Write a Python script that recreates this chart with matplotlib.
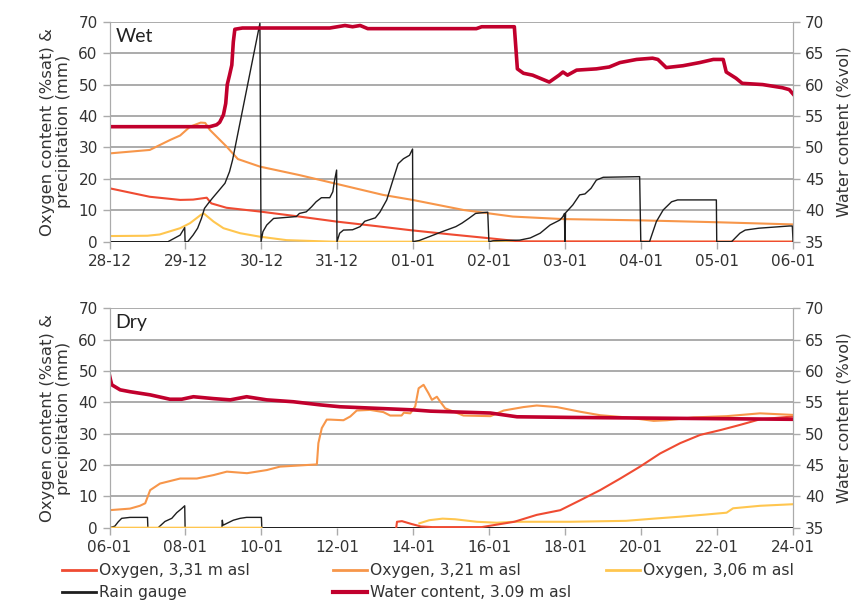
import numpy as np
import pandas as pd
import matplotlib
matplotlib.use("Agg")
import matplotlib.pyplot as plt
from matplotlib.lines import Line2D

# ---------------- data ----------------
wet_start = "2011-12-28"
dry_start = "2012-01-06"

# Wet period (days since 28-12)
wet_wc_days = [0, 1.32, 1.41, 1.45, 1.5, 1.53, 1.55, 1.58, 1.61, 1.63, 1.65, 1.75, 2.5, 2.9, 3.0,
               3.1, 3.2, 3.3, 3.4, 3.9, 4.83, 4.9, 5.33, 5.37, 5.45, 5.57, 5.79, 5.92, 5.97, 6.03,
               6.15, 6.41, 6.58, 6.72, 6.94, 7.15, 7.22, 7.33, 7.55, 7.77, 7.95, 8.08, 8.12, 8.25,
               8.33, 8.6, 8.86, 8.95, 9.0]
wet_wc = [53.3, 53.3, 53.6, 54.0, 55.2, 57.0, 60.0, 61.5, 63.1, 66.8, 68.8, 69.0, 69.0, 69.0, 69.2,
          69.4, 69.2, 69.4, 68.9, 68.9, 68.9, 69.2, 69.2, 62.5, 61.8, 61.5, 60.4, 61.5, 62.0, 61.5,
          62.3, 62.5, 62.8, 63.5, 64.0, 64.2, 64.0, 62.7, 63.0, 63.5, 64.0, 64.0, 62.0, 61.0,
          60.2, 60.0, 59.5, 59.2, 58.5]

wet_o331_days = [0, 0.53, 0.93, 1.1, 1.28, 1.34, 1.54, 1.98, 2.5, 2.99, 3.5, 3.95, 4.5, 5.0, 5.4, 9.0]
wet_o331 = [17.0, 14.3, 13.3, 13.4, 14.0, 12.2, 10.8, 9.6, 8.0, 6.4, 5.0, 3.7, 2.3, 1.1, 0.1, 0.0]

wet_o321_days = [0, 0.53, 0.8, 0.93, 1.06, 1.2, 1.26, 1.32, 1.54, 1.69, 1.98, 2.5, 2.99, 3.6, 3.99,
                 4.66, 5.31, 5.97, 6.98, 7.99, 9.0]
wet_o321 = [28.1, 29.2, 32.4, 33.8, 36.6, 37.9, 37.8, 35.6, 30.3, 26.3, 23.9, 21.2, 18.4, 14.9, 13.3,
            10.1, 8.0, 7.2, 6.8, 6.2, 5.5]

wet_o306_days = [0, 0.5, 0.66, 0.93, 1.06, 1.2, 1.24, 1.37, 1.5, 1.72, 1.98, 2.33, 2.95, 9.0]
wet_o306 = [1.8, 1.9, 2.3, 4.3, 5.9, 8.5, 9.0, 6.4, 4.3, 2.7, 1.6, 0.5, 0.0, 0.0]

wet_rain_days = [0, 0.77, 0.93, 0.99, 0.995, 1.03, 1.1, 1.16, 1.21, 1.25, 1.3, 1.36, 1.43, 1.52, 1.58,
                 1.62, 1.98, 1.995,
                 2.02, 2.07, 2.16, 2.46, 2.5, 2.59, 2.66, 2.72, 2.79, 2.9, 2.94, 2.96, 2.99, 2.995,
                 3.03, 3.08, 3.2, 3.3, 3.36, 3.5, 3.56, 3.65, 3.73, 3.8, 3.87, 3.95, 3.99, 3.995,
                 4.08, 4.21, 4.38, 4.56, 4.64, 4.73, 4.82, 4.98, 4.995,
                 5.05, 5.4, 5.54, 5.67, 5.8, 5.93, 5.97, 5.99, 5.995, 6.005,
                 6.1, 6.19, 6.26, 6.34, 6.41, 6.5, 6.98, 6.995,
                 7.11, 7.2, 7.29, 7.4, 7.48, 7.99, 7.995,
                 8.19, 8.3, 8.37, 8.55, 8.95, 8.99, 9.0]
wet_rain = [0, 0, 2.1, 4.5, 0, 0, 2.1, 4.3, 7.4, 10.6, 12.2, 14.0, 16.0, 18.6, 22.3,
            26.0, 69.5, 0,
            3.2, 5.3, 7.4, 8.0, 9.0, 9.5, 11.1, 12.7, 14.0, 14.0, 15.9, 19.1, 22.8, 0,
            2.7, 3.7, 3.8, 4.8, 6.5, 7.6, 9.4, 13.3, 19.5, 24.8, 26.4, 27.5, 29.5, 0,
            0.4, 1.6, 3.2, 4.8, 5.9, 7.4, 9.0, 9.4, 0,
            0.3, 0.5, 1.2, 2.7, 5.3, 6.9, 8.0, 9.0, 0, 9.2,
            11.7, 14.9, 15.2, 17.0, 19.6, 20.5, 20.7, 0,
            0, 6.4, 10.1, 12.7, 13.3, 13.3, 0,
            0, 2.7, 3.7, 4.3, 5.0, 5.0, 0]

# Dry period (days since 06-01)
dry_wc_days = [0, 0.03, 0.06, 0.28, 0.54, 1.07, 1.59, 1.9, 2.21, 2.74, 3.18, 3.61, 4.14, 4.84, 5.55,
               6.07, 8.0, 8.45, 10.03, 10.73, 12.14, 14.0, 16.0, 18.0]
dry_wc = [59.3, 58.5, 57.8, 57.0, 56.7, 56.2, 55.5, 55.5, 55.9, 55.6, 55.4, 55.9, 55.4, 55.1, 54.6,
          54.3, 53.8, 53.6, 53.3, 52.7, 52.6, 52.5, 52.4, 52.3]

dry_o321_days = [0, 0.54, 0.8, 0.94, 1.07, 1.33, 1.86, 2.3, 2.74, 3.09, 3.62, 4.14, 4.49, 5.46, 5.5,
                 5.59, 5.72, 5.81, 6.16, 6.34, 6.51, 6.86, 7.21, 7.39, 7.69, 7.75, 7.92, 8.05, 8.14,
                 8.27, 8.4, 8.49, 8.62, 8.71, 8.84, 9.32, 10.03, 10.38, 10.9, 11.25, 11.78, 12.4,
                 12.92, 13.62, 14.33, 14.68, 15.38, 16.25, 17.13, 18.0]
dry_o321 = [5.6, 6.1, 7.0, 7.8, 12.0, 14.1, 15.7, 15.7, 16.8, 17.9, 17.4, 18.4, 19.5, 20.2, 27.0,
            31.8, 34.5, 34.5, 34.3, 35.5, 37.4, 37.6, 36.9, 35.8, 35.8, 36.7, 36.5, 38.7, 44.5,
            45.6, 42.9, 40.8, 41.8, 40.2, 38.1, 35.8, 35.6, 37.4, 38.5, 39.0, 38.5, 37.0,
            35.9, 35.2, 34.1, 34.3, 35.2, 35.6, 36.5, 36.0]

dry_o331_days = [7.55, 7.57, 7.7, 7.95, 8.2, 8.5, 9.8, 10.66, 11.25, 11.87, 12.4, 12.92, 13.45, 13.97,
                 14.5, 15.03, 15.55, 16.1, 16.6, 17.13, 18.0]
dry_o331 = [0.0, 1.9, 2.1, 1.2, 0.4, 0.2, 0.2, 1.9, 4.1, 5.6, 8.8, 12.0, 15.7, 19.5,
            23.7, 27.0, 29.6, 31.2, 32.8, 34.6, 35.5]

dry_o306_days = [0, 4.0, 8.0, 8.16, 8.42, 8.77, 9.1, 9.67, 10.2, 10.66, 12.14, 13.6, 14.33, 15.0,
                 15.7, 16.25, 16.42, 17.13, 18.0]
dry_o306 = [0.0, 0.0, np.nan, 1.4, 2.4, 2.9, 2.7, 1.9, 1.6, 1.9, 1.9, 2.2, 2.9, 3.5,
            4.2, 4.8, 6.2, 7.0, 7.5]

dry_rain_days = [0, 0.14, 0.23, 0.32, 0.54, 1.0, 1.01, 1.28, 1.46, 1.64, 1.77, 1.9, 1.98, 1.99,
                 2.96, 2.97, 2.99, 3.26, 3.44, 3.61, 4.0, 4.01, 18.0]
dry_rain = [0, 0.5, 1.9, 3.0, 3.3, 3.3, 0, 0, 2.0, 3.0, 4.8, 6.1, 7.0, 0,
            0, 2.4, 0.8, 2.4, 3.0, 3.3, 3.3, 0, 0]

wet_ticks = ["28-12", "29-12", "30-12", "31-12", "01-01", "02-01", "03-01", "04-01", "05-01", "06-01"]
dry_ticks = ["06-01", "08-01", "10-01", "12-01", "14-01", "16-01", "18-01", "20-01", "22-01", "24-01"]

labels = ["Oxygen, 3,31 m asl", "Oxygen, 3,21 m asl", "Oxygen, 3,06 m asl",
          "Rain gauge", "Water content, 3.09 m asl"]

# ---------------- style ----------------
C_O331 = "#EF4B32"
C_O321 = "#F7964A"
C_O306 = "#FFC64F"
C_RAIN = "#1E1E1E"
C_WC = "#C1002D"
GRID = "#ABABAB"
TXT = "#333333"
FONT = "DejaVu Sans"
TICK_FS = 11

plt.rcParams["font.family"] = [FONT]


def to_dates(start, days):
    return pd.Timestamp(start) + pd.to_timedelta(np.asarray(days, dtype=float), unit="D")


fig = plt.figure(figsize=(8.57, 6.07), dpi=100)
ax_top = fig.add_axes([0.1278, 0.6018, 0.7976, 0.3624])
ax_bot = fig.add_axes([0.1278, 0.1306, 0.7976, 0.3614])


def style_axes(ax, ax2, start, ndays, step, ticklabels, tag):
    ax.set_ylim(0, 70)
    ax.set_yticks(np.arange(0, 71, 10))
    ax2.set_ylim(35, 70)
    ax2.set_yticks(np.arange(35, 71, 5))
    t0 = pd.Timestamp(start)
    ax.set_xlim(t0, t0 + pd.Timedelta(days=ndays))
    ticks = [t0 + pd.Timedelta(days=d) for d in range(0, ndays + 1, step)]
    ax.set_xticks(ticks)
    ax.set_xticklabels(ticklabels)
    ax.grid(axis="y", color=GRID, lw=1.4)
    ax.set_axisbelow(True)
    for a in (ax, ax2):
        for s in ("top", "bottom"):
            a.spines[s].set_visible(False)
        a.spines["left"].set_color(GRID)
        a.spines["right"].set_color(GRID)
        a.tick_params(colors=GRID, labelcolor=TXT, labelsize=TICK_FS, length=5, width=1)
    ax.tick_params(axis="x", pad=4)
    ax.set_ylabel("Oxygen content (%sat) &\nprecipitation (mm)", color=TXT, fontsize=11.8,
                  linespacing=1.1, labelpad=5)
    ax2.set_ylabel("Water content (%vol)", color=TXT, fontsize=11.5, labelpad=9)
    ax.text(0.009, 0.935, tag, transform=ax.transAxes, fontsize=14, color="#222222",
            family=["Lato", "DejaVu Sans"], va="center", ha="left")


# ---- top (Wet) ----
ax2_top = ax_top.twinx()
ax_top.plot(to_dates(wet_start, wet_o306_days), wet_o306, color=C_O306, lw=1.5, zorder=3)
ax_top.plot(to_dates(wet_start, wet_o331_days), wet_o331, color=C_O331, lw=1.5, zorder=3)
ax_top.plot(to_dates(wet_start, wet_o321_days), wet_o321, color=C_O321, lw=1.5, zorder=3)
ax_top.plot(to_dates(wet_start, wet_rain_days), wet_rain, color=C_RAIN, lw=1.0, zorder=4)
ax2_top.plot(to_dates(wet_start, wet_wc_days), wet_wc, color=C_WC, lw=2.6)
style_axes(ax_top, ax2_top, wet_start, 9, 1, wet_ticks, "Wet")

# ---- bottom (Dry) ----
ax2_bot = ax_bot.twinx()
ax_bot.plot(to_dates(dry_start, dry_rain_days), dry_rain, color=C_RAIN, lw=1.0, zorder=3)
ax_bot.plot(to_dates(dry_start, dry_o306_days), dry_o306, color=C_O306, lw=1.5, zorder=4)
ax_bot.plot(to_dates(dry_start, dry_o331_days), dry_o331, color=C_O331, lw=1.5, zorder=4)
ax_bot.plot(to_dates(dry_start, dry_o321_days), dry_o321, color=C_O321, lw=1.5, zorder=4)
ax2_bot.plot(to_dates(dry_start, dry_wc_days), dry_wc, color=C_WC, lw=2.6)
style_axes(ax_bot, ax2_bot, dry_start, 18, 2, dry_ticks, "Dry")

# ---- legend ----
handles = [Line2D([], [], color=C_O331, lw=2),
           Line2D([], [], color=C_O321, lw=2),
           Line2D([], [], color=C_O306, lw=2),
           Line2D([], [], color=C_RAIN, lw=2),
           Line2D([], [], color=C_WC, lw=3)]
col_x = [62 / 857, 333 / 857, 606 / 857]
groups = [[0, 3], [1, 4], [2]]
for cx, g in zip(col_x, groups):
    leg = fig.legend([handles[i] for i in g], [labels[i] for i in g],
                     loc="upper left", bbox_to_anchor=(cx, 1 - 563 / 607),
                     frameon=False, fontsize=11.2, handlelength=2.2, handletextpad=0.15,
                     labelspacing=0.45, borderpad=0, borderaxespad=0)
    for t in leg.get_texts():
        t.set_color(TXT)

fig.savefig("out.png", dpi=100)
